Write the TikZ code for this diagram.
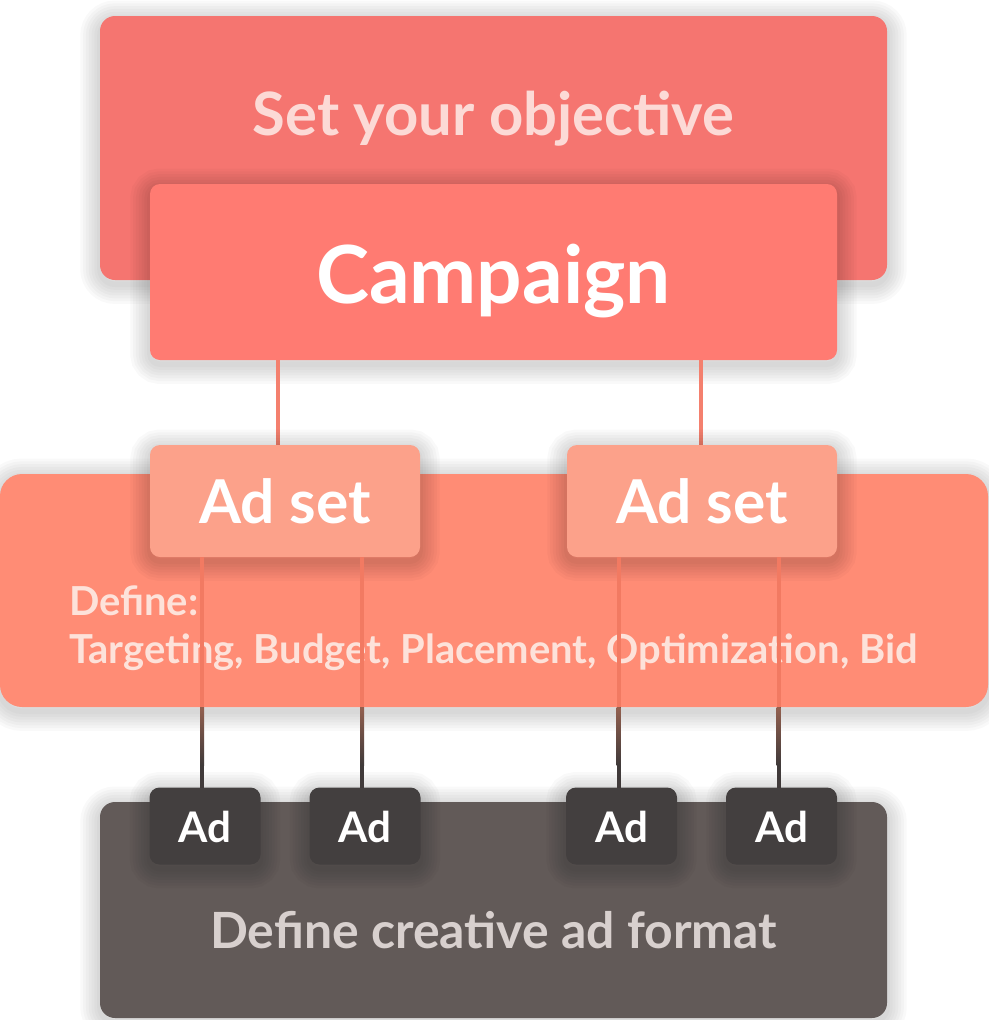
\documentclass[tikz,border=0pt]{standalone}
\usepackage{fontspec}
\setmainfont{Lato}
\usetikzlibrary{calc}
\definecolor{objfill}{HTML}{F57570}
\definecolor{campfill}{HTML}{FF7B72}
\definecolor{deffill}{HTML}{FF8C75}
\definecolor{setfill}{HTML}{FCA18A}
\definecolor{adfill}{HTML}{433F3F}
\definecolor{fmtfill}{HTML}{625A58}
\definecolor{objtext}{HTML}{FCDAD6}
\definecolor{deftext}{HTML}{FDE2DA}
\definecolor{fmttext}{HTML}{D8D0CE}
\definecolor{camline}{HTML}{F4806E}
\definecolor{setline}{HTML}{F27A62}
\definecolor{fadetop}{HTML}{93604F}
\definecolor{adline}{HTML}{403A3A}
\newcommand{\pxu}{0.025cm}

\begin{document}
\begin{tikzpicture}[x=0.025cm, y=-0.025cm,
	box/.style={inner sep=0pt, outer sep=0pt, draw=none},
	shadowring/.style={preaction={draw=black, draw opacity=0.022, line width=#1, transform canvas={yshift=-3pt}}},
	softshadow/.style={shadowring=4pt, shadowring=8pt, shadowring=12pt, shadowring=16pt, shadowring=20pt, shadowring=24pt, shadowring=28pt},
	conn/.style={line width=4*\pxu}]

	\useasboundingbox (0,0) rectangle (988,1020);

	% objective and campaign
	\node[box, softshadow, fill=objfill, rounded corners=15*\pxu, minimum width=787*\pxu, minimum height=264*\pxu] (objective) at (493.5,148) {};
	\node[box, anchor=base, text=objtext, font=\bfseries\fontsize{42.5}{50}\selectfont] (objlabel) at (objective.center |- 0,135) {Set your objective};
	\node[box, softshadow, fill=campfill, rounded corners=10*\pxu, minimum width=687*\pxu, minimum height=176*\pxu] (campaign) at (493.5,272) {};
	\node[box, anchor=base, text=white, font=\bfseries\fontsize{57}{64}\selectfont] (camplabel) at (campaign.center |- 0,303) {Campaign};

	\draw[conn, camline] (campaign.south -| 278,0) -- (278,445) coordinate (setinL);
	\draw[conn, camline] (campaign.south -| 701,0) -- (701,445) coordinate (setinR);

	% ad sets
	\node[box, softshadow, fill=deffill, rounded corners=22*\pxu, minimum width=988*\pxu, minimum height=233*\pxu] (define) at (494,590.5) {};
	\node[box, anchor=base west, text=deftext, font=\bfseries\fontsize{28.4}{34}\selectfont] (defhead) at (69,615) {Define:};
	\node[box, anchor=base west, text=deftext, font=\bfseries\fontsize{28.4}{34}\selectfont] (deflist) at (69,663) {Targeting, Budget, Placement, Optimization, Bid};

	\node[box, softshadow, fill=setfill, rounded corners=10*\pxu, minimum width=270*\pxu, minimum height=112*\pxu] (adsetL) at (285,501) {};
	\node[box, softshadow, fill=setfill, rounded corners=10*\pxu, minimum width=270*\pxu, minimum height=112*\pxu] (adsetR) at (702,501) {};
	\node[box, anchor=base, text=white, font=\bfseries\fontsize{43}{50}\selectfont] (setlabelL) at (adsetL.center |- 0,523) {Ad set};
	\node[box, anchor=base, text=white, font=\bfseries\fontsize{43}{50}\selectfont] (setlabelR) at (adsetR.center |- 0,523) {Ad set};

	% ads
	\node[box, softshadow, fill=fmtfill, rounded corners=15*\pxu, minimum width=787*\pxu, minimum height=216*\pxu] (format) at (493.5,910) {};
	\node[box, anchor=base, text=fmttext, font=\bfseries\fontsize{35.5}{44}\selectfont] (fmtlabel) at (format.center |- 0,948) {Define creative ad format};

	\foreach \n/\x in {adA/205, adB/365, adC/621.5, adD/781.5} {
		\node[box, softshadow, fill=adfill, rounded corners=10*\pxu, minimum width=111*\pxu, minimum height=77*\pxu] (\n) at (\x,826) {};
		\node[box, anchor=base, text=white, font=\bfseries\fontsize{30}{36}\selectfont] (\n label) at (\n.center |- 0,842) {Ad};
	}

	\foreach \a/\s in {adA/adsetL, adB/adsetL, adC/adsetR, adD/adsetR} {
		\coordinate (\a top) at ($(\a.north)+(-3,0)$);
		\draw[conn, adline] (\s.south -| \a top) -- (\a top);
		\shade[top color=fadetop, bottom color=adline] ($(\a top |- define.south)+(-2,0)$) rectangle ($(\a top |- 0,765)+(2,0)$);
		\draw[conn, setline] (\s.south -| \a top) -- (define.south -| \a top);
	}

\end{tikzpicture}
\end{document}
